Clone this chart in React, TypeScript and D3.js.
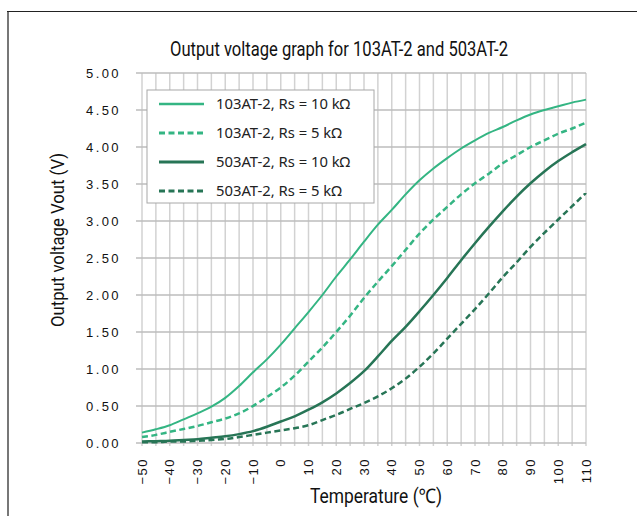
import * as d3 from 'd3'

const temps = d3.range(-50, 111, 5)

const v103_10k = [0.14, 0.185, 0.24, 0.32, 0.4, 0.49, 0.61, 0.77, 0.955, 1.13, 1.33, 1.55, 1.77, 2.0, 2.25, 2.48, 2.72, 2.95, 3.15, 3.36, 3.55, 3.71, 3.85, 3.98, 4.09, 4.19, 4.27, 4.36, 4.44, 4.5, 4.55, 4.6, 4.64]
const v103_5k = [0.08, 0.11, 0.15, 0.19, 0.23, 0.28, 0.33, 0.4, 0.5, 0.62, 0.75, 0.91, 1.1, 1.29, 1.5, 1.72, 1.96, 2.18, 2.39, 2.61, 2.83, 3.02, 3.19, 3.36, 3.51, 3.64, 3.78, 3.89, 4.0, 4.09, 4.18, 4.25, 4.33]
const v503_10k = [0.02, 0.025, 0.03, 0.04, 0.05, 0.07, 0.09, 0.12, 0.16, 0.22, 0.29, 0.36, 0.45, 0.55, 0.67, 0.81, 0.97, 1.17, 1.38, 1.57, 1.78, 2.0, 2.23, 2.47, 2.7, 2.92, 3.13, 3.33, 3.51, 3.67, 3.81, 3.93, 4.04]
const v503_5k = [0.01, 0.01, 0.02, 0.02, 0.03, 0.04, 0.055, 0.08, 0.11, 0.14, 0.17, 0.2, 0.24, 0.31, 0.38, 0.46, 0.54, 0.63, 0.74, 0.87, 1.03, 1.21, 1.41, 1.61, 1.81, 2.02, 2.24, 2.44, 2.65, 2.84, 3.02, 3.2, 3.38]

const xTicks = d3.range(-50, 111, 10)
const xGrid = d3.range(-50, 111, 5)
const yTicks = d3.range(0, 5.01, 0.5)

const LIGHT = '#34b583'
const DARK = '#277556'

const series = [
  { name: '103AT-2, Rs = 10 kΩ', values: v103_10k, color: LIGHT, dash: '', width: 2 },
  { name: '103AT-2, Rs = 5 kΩ', values: v103_5k, color: LIGHT, dash: '6 3.5', width: 2.5 },
  { name: '503AT-2, Rs = 10 kΩ', values: v503_10k, color: DARK, dash: '', width: 2.5 },
  { name: '503AT-2, Rs = 5 kΩ', values: v503_5k, color: DARK, dash: '6 3.5', width: 2.5 },
]

export default function App() {
  const width = 637
  const height = 516
  const margin = { left: 142, right: 51, top: 73, bottom: 73 }

  const x = d3.scaleLinear().domain([-50, 110]).range([margin.left, width - margin.right])
  const y = d3.scaleLinear().domain([0, 5]).range([height - margin.bottom, margin.top])

  const line = d3.line<number>()
    .x((_, i) => x(temps[i]))
    .y(d => y(d))
    .curve(d3.curveMonotoneX)

  const tickFont = '"Liberation Sans", Arial, sans-serif'
  const condFont = 'Roboto, "Noto Sans", sans-serif'

  return (
    <svg width={width} height={height} style={{ position: 'absolute', left: 0, top: 0, background: '#fff' }}>
      {/* frame */}
      <line x1={8} x2={8} y1={11} y2={height} stroke="#777" strokeWidth={2} />
      <line x1={7} x2={width} y1={11.5} y2={11.5} stroke="#222" strokeWidth={1.2} />

      <text x={339} y={56} textAnchor="middle" fontFamily={condFont} fontSize={19.5} fill="#111"
        textLength={338} lengthAdjust="spacingAndGlyphs">
        Output voltage graph for 103AT-2 and 503AT-2
      </text>

      {/* vertical grid */}
      {xGrid.map(t => (
        <line key={'vx' + t} x1={x(t)} x2={x(t)} y1={y(5)} y2={y(0) + 3} stroke="#d2d2d2" strokeWidth={1.5} />
      ))}
      {/* horizontal grid */}
      {yTicks.map(t => (
        <line key={'hy' + t} x1={x(-50) - 6} x2={x(110)} y1={y(t)} y2={y(t)} stroke="#bdbdbd" strokeWidth={1.5} />
      ))}

      {yTicks.map(t => (
        <text key={'yl' + t} x={121} y={y(t)} dy="0.36em" textAnchor="end" fontFamily={tickFont}
          fontSize={13} letterSpacing={2.4} fill="#111">
          {t.toFixed(2)}
        </text>
      ))}

      {xTicks.map(t => (
        <text key={'xl' + t} transform={`translate(${x(t)},${y(0) + 15}) rotate(-90)`} dy="0.36em"
          textAnchor="end" fontFamily={tickFont} fontSize={13} letterSpacing={1.5} fill="#111">
          {t < 0 ? '\u2212' + Math.abs(t) : String(t)}
        </text>
      ))}

      {series.map(s => (
        <path key={s.name} d={line(s.values) ?? ''} fill="none" stroke={s.color} strokeWidth={s.width}
          strokeDasharray={s.dash} strokeLinejoin="round" />
      ))}

      {/* legend */}
      <rect x={147} y={90} width={227} height={113} fill="#fff" stroke="#a8a8a8" strokeWidth={1} />
      {series.map((s, i) => (
        <g key={'lg' + i} transform={`translate(159,${104 + i * 29})`}>
          <line x1={0} x2={45} y1={0} y2={0} stroke={s.color} strokeWidth={s.width + 0.5} strokeDasharray={s.dash} />
          <text x={57} y={0} dy="0.36em" fontFamily='"Noto Sans", sans-serif' fontSize={14.8} fill="#222">{s.name}</text>
        </g>
      ))}

      <text x={376} y={503} textAnchor="middle" fontFamily={condFont} fontSize={20} fill="#111"
        textLength={132} lengthAdjust="spacingAndGlyphs">
        Temperature (℃)
      </text>
      <text transform="translate(64,240) rotate(-90)" textAnchor="middle" fontFamily={condFont} fontSize={18.5}
        fill="#111" textLength={174} lengthAdjust="spacingAndGlyphs">
        Output voltage Vout (V)
      </text>
    </svg>
  )
}
